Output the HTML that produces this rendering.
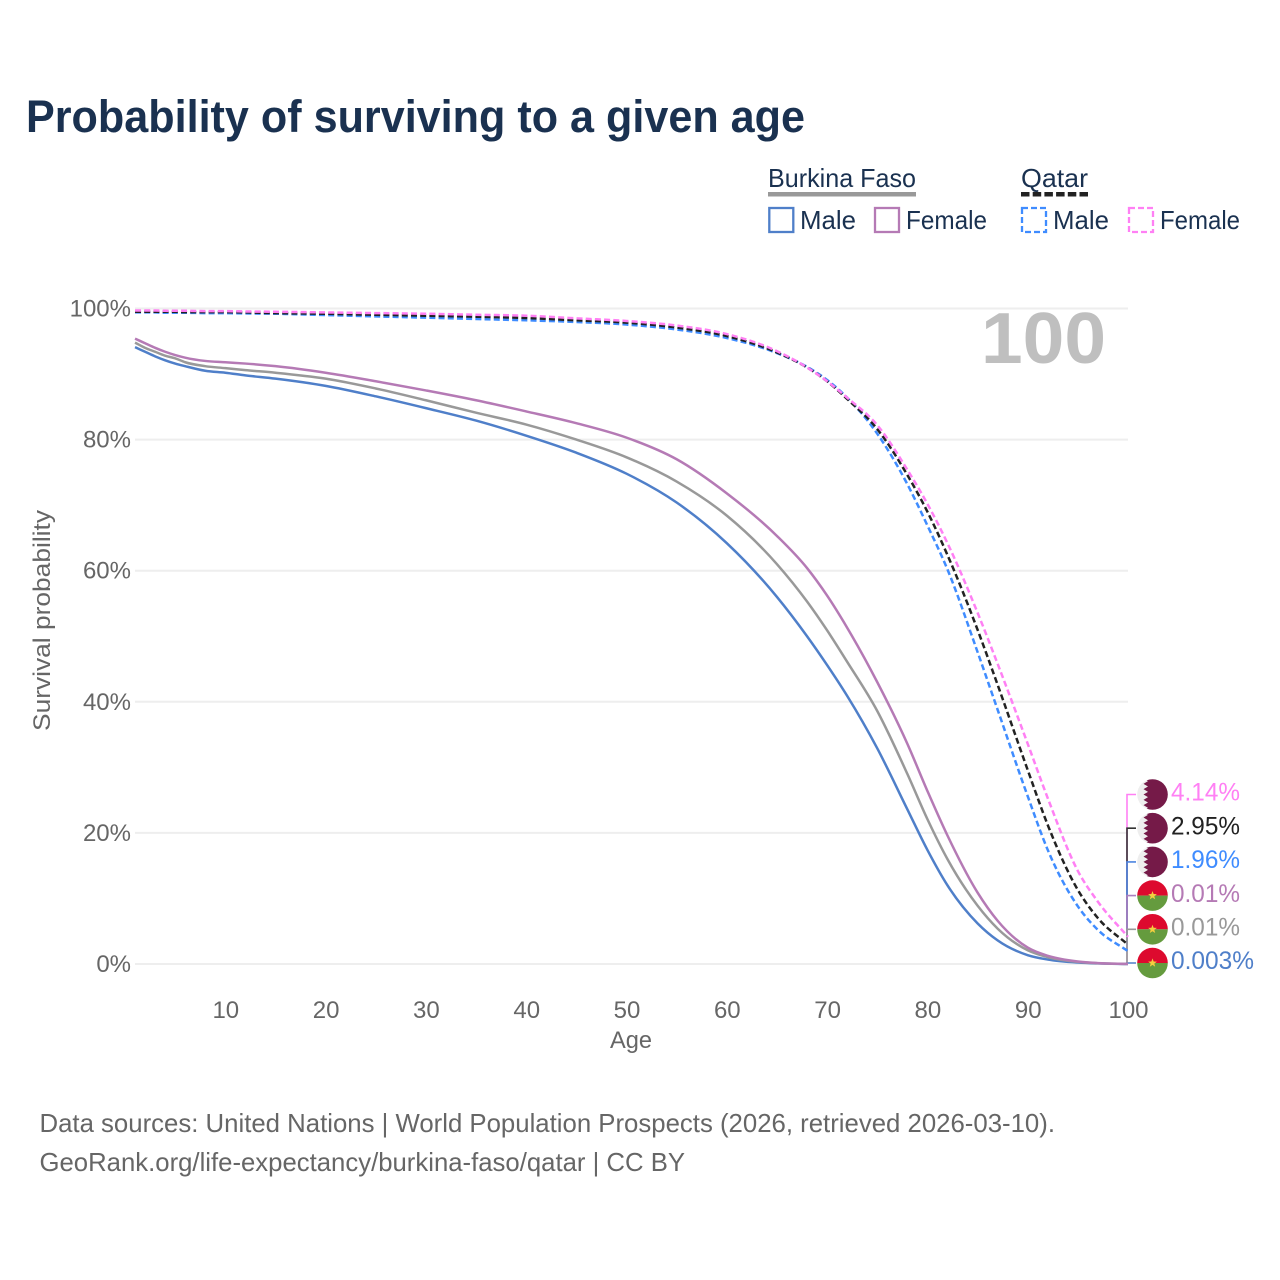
<!DOCTYPE html>
<html lang="en">
<head>
<meta charset="utf-8">
<title>Probability of surviving to a given age</title>
<style>
html,body{margin:0;padding:0;background:#fff;}
svg{display:block;}
text{font-family:"Liberation Sans",sans-serif;}
</style>
</head>
<body>
<svg id="chart" xmlns="http://www.w3.org/2000/svg" width="1280" height="1280" viewBox="0 0 1280 1280">
  <rect width="1280" height="1280" fill="#ffffff"/>
  <text x="26" y="132" font-size="45" font-weight="bold" fill="#1a3150" textLength="779" lengthAdjust="spacingAndGlyphs">Probability of surviving to a given age</text>

  <g>
    <text x="768" y="187" font-size="26" fill="#1a3150" textLength="148" lengthAdjust="spacingAndGlyphs">Burkina Faso</text>
    <rect x="768" y="192" width="148" height="4.5" fill="#999999"/>
    <text x="1021" y="187" font-size="26" fill="#1a3150" textLength="67" lengthAdjust="spacingAndGlyphs">Qatar</text>
    <line x1="1021" y1="194.2" x2="1088" y2="194.2" stroke="#222222" stroke-width="4.5" stroke-dasharray="8.5 3.2"/>
    <rect x="769.3" y="208" width="24" height="24" fill="none" stroke="#4f7fc9" stroke-width="2.3"/>
    <text x="800" y="229" font-size="26" fill="#1a3150" textLength="56" lengthAdjust="spacingAndGlyphs">Male</text>
    <rect x="875" y="208" width="24" height="24" fill="none" stroke="#b57ab5" stroke-width="2.3"/>
    <text x="906" y="229" font-size="26" fill="#1a3150" textLength="81" lengthAdjust="spacingAndGlyphs">Female</text>
    <rect x="1022" y="208" width="24" height="24" fill="none" stroke="#3f8cff" stroke-width="2.3" stroke-dasharray="6 3"/>
    <text x="1053" y="229" font-size="26" fill="#1a3150" textLength="56" lengthAdjust="spacingAndGlyphs">Male</text>
    <rect x="1129" y="208" width="24" height="24" fill="none" stroke="#ff80f4" stroke-width="2.3" stroke-dasharray="6 3"/>
    <text x="1160" y="229" font-size="26" fill="#1a3150" textLength="80" lengthAdjust="spacingAndGlyphs">Female</text>
  </g>

  <g id="grid"></g>
  <text x="981" y="363" font-size="72" font-weight="bold" fill="#bfbfbf" textLength="125" lengthAdjust="spacingAndGlyphs">100</text>
  <g id="yticks"></g>
  <g id="xticks"></g>
  <text transform="translate(50,620.5) rotate(-90)" text-anchor="middle" font-size="24" fill="#666666" textLength="221" lengthAdjust="spacingAndGlyphs">Survival probability</text>
  <text x="610" y="1048" font-size="24" fill="#666666" textLength="42" lengthAdjust="spacingAndGlyphs">Age</text>
  <g id="stems"></g>
  <g id="series"></g>
  <g id="ends"></g>

  <text x="39.5" y="1132" font-size="26" fill="#666666" textLength="1015.5" lengthAdjust="spacingAndGlyphs">Data sources: United Nations | World Population Prospects (2026, retrieved 2026-03-10).</text>
  <text x="39.5" y="1171" font-size="26" fill="#666666" textLength="645.5" lengthAdjust="spacingAndGlyphs">GeoRank.org/life-expectancy/burkina-faso/qatar | CC BY</text>
</svg>
<script>
const ages = [1,2,3,4,5,6,8,10,12,15,20,25,30,35,40,45,50,55,60,65,68,70,72,75,78,80,82,85,87,90,92,95,97,100];
const burkinaMale = [94.1,93.4,92.7,92.1,91.6,91.2,90.5,90.2,89.8,89.3,88.2,86.6,84.8,82.9,80.6,78.0,74.8,70.4,64.2,56.0,50.0,45.6,40.9,32.9,23.6,17.4,12.0,6.2,3.6,1.35,0.68,0.22,0.09,0.003];
const burkinaTotal = [94.8,94.0,93.4,92.8,92.4,91.8,91.2,90.9,90.6,90.2,89.3,87.8,86.0,84.1,82.3,80.0,77.3,73.6,68.4,61.0,55.3,50.9,46.1,38.6,29.0,22.1,16.0,8.9,5.4,2.1,1.05,0.33,0.12,0.01];
const burkinaFemale = [95.4,94.7,94.0,93.4,92.9,92.5,92.0,91.8,91.6,91.2,90.2,88.9,87.5,86.0,84.3,82.5,80.3,77.0,71.8,65.3,60.4,56.2,51.3,43.0,33.6,26.4,19.6,10.9,6.6,2.5,1.25,0.38,0.14,0.01];
const qatarMale = [99.4,99.4,99.4,99.35,99.35,99.35,99.3,99.3,99.25,99.2,99.0,98.8,98.6,98.4,98.2,97.95,97.55,96.8,95.5,93.2,91.1,89.1,86.4,80.9,73.2,66.9,60.2,47.6,38.8,25.6,17.4,8.8,5.2,1.96];
const qatarTotal = [99.5,99.5,99.5,99.5,99.5,99.45,99.45,99.45,99.4,99.3,99.2,99.05,98.9,98.75,98.55,98.2,97.85,97.1,95.8,93.3,91.0,88.9,86.2,81.6,74.6,69.0,62.4,51.0,42.6,29.6,21.2,11.3,7.0,2.95];
const qatarFemale = [99.7,99.7,99.7,99.65,99.65,99.65,99.6,99.6,99.55,99.5,99.4,99.3,99.2,99.05,98.9,98.5,98.1,97.4,96.1,93.5,91.0,88.9,86.4,82.2,75.4,70.2,64.2,53.6,45.8,33.6,25.3,14.2,9.5,4.14];
const seriesNames = ["burkina-male","burkina-total","burkina-female","qatar-male","qatar-total","qatar-female"];
const yTickValues = [0,20,40,60,80,100];
const xTickValues = [10,20,30,40,50,60,70,80,90,100];
const endLabelText = ["4.14%","2.95%","1.96%","0.01%","0.01%","0.003%"];

const NS = "http://www.w3.org/2000/svg";
function xScale(a){ return 1128 - (100 - a) * 10.03; }
function yScale(v){ return 964 - v * 6.555; }
function mk(tag, parent, attrs){
  const el = document.createElementNS(NS, tag);
  for (const k in attrs) el.setAttribute(k, attrs[k]);
  parent.appendChild(el);
  return el;
}
function curvePath(xs, vs){
  const n = xs.length, px = xs.map(xScale), py = vs.map(yScale);
  const d = [], m = [];
  for (let i = 0; i < n - 1; i++) d.push((py[i+1] - py[i]) / (px[i+1] - px[i]));
  m.push(d[0]);
  for (let i = 1; i < n - 1; i++) {
    const h0 = px[i] - px[i-1], h1 = px[i+1] - px[i];
    m.push((h1 * d[i-1] + h0 * d[i]) / (h0 + h1));
  }
  m.push(d[n-2]);
  let s = "M" + px[0].toFixed(2) + " " + py[0].toFixed(2);
  for (let i = 0; i < n - 1; i++) {
    const h = (px[i+1] - px[i]) / 3;
    s += "C" + (px[i] + h).toFixed(2) + " " + (py[i] + m[i] * h).toFixed(2) + " " +
         (px[i+1] - h).toFixed(2) + " " + (py[i+1] - m[i+1] * h).toFixed(2) + " " +
         px[i+1].toFixed(2) + " " + py[i+1].toFixed(2);
  }
  return s;
}

const gGrid = document.getElementById("grid");
const gY = document.getElementById("yticks");
yTickValues.forEach(function(v){
  const ln = mk("line", gGrid, {x1: 135, x2: 1128, y1: yScale(v), y2: yScale(v), stroke: "#eeeeee", "stroke-width": 2});
  
  
  const t = mk("text", gY, {x: 131, y: yScale(v) + 8, "text-anchor": "end", "font-size": 24, fill: "#666666"});
  t.textContent = v + "%";
  
  
});
const gX = document.getElementById("xticks");
xTickValues.forEach(function(a){
  const t = mk("text", gX, {x: xScale(a) + 0.5, y: 1018, "text-anchor": "middle", "font-size": 24, fill: "#666666"});
  t.textContent = String(a);
  
  
});

const allSeries = [burkinaMale, burkinaTotal, burkinaFemale, qatarMale, qatarTotal, qatarFemale];
const colors = ["#4f7fc9","#999999","#b57ab5","#3f8cff","#222222","#ff80f4"];
const gSeries = document.getElementById("series");
allSeries.forEach(function(vals, i){
  const attrs = {d: curvePath(ages, vals), fill: "none", stroke: colors[i], "stroke-width": 2.5, "stroke-linejoin": "round"};
  if (i >= 3) attrs["stroke-dasharray"] = "6 3.2";
  const p = mk("path", gSeries, attrs);
  
  
});

function flagQatar(parent, cx, cy){
  const g = mk("g", parent, {});
  const id = "clip-" + Math.round(cy);
  const cp = mk("clipPath", g, {id: id});
  mk("circle", cp, {cx: cx, cy: cy, r: 15.3});
  const inner = mk("g", g, {"clip-path": "url(#" + id + ")"});
  mk("rect", inner, {x: cx - 16, y: cy - 16, width: 32, height: 32, fill: "#eeeeee"});
  const teeth = 6, h = 32 / teeth;
  let pts = (cx + 16) + "," + (cy - 16);
  pts += " " + (cx - 9) + "," + (cy - 16);
  for (let k = 0; k < teeth; k++) {
    pts += " " + (cx - 4.5) + "," + (cy - 16 + h * (k + 0.5));
    pts += " " + (cx - 9) + "," + (cy - 16 + h * (k + 1));
  }
  pts += " " + (cx + 16) + "," + (cy + 16);
  mk("polygon", inner, {points: pts, fill: "#751a48"});
  return g;
}
function flagBurkina(parent, cx, cy){
  const g = mk("g", parent, {});
  const id = "clip-" + Math.round(cy);
  const cp = mk("clipPath", g, {id: id});
  mk("circle", cp, {cx: cx, cy: cy, r: 15.3});
  const inner = mk("g", g, {"clip-path": "url(#" + id + ")"});
  mk("rect", inner, {x: cx - 16, y: cy - 16, width: 32, height: 16, fill: "#dd0a2e"});
  mk("rect", inner, {x: cx - 16, y: cy, width: 32, height: 16, fill: "#659b3e"});
  let pts = "";
  for (let k = 0; k < 10; k++) {
    const r = k % 2 ? 1.9 : 4.6, an = -Math.PI / 2 + k * Math.PI / 5;
    pts += (cx + r * Math.cos(an)).toFixed(2) + "," + (cy + r * Math.sin(an)).toFixed(2) + " ";
  }
  mk("polygon", inner, {points: pts, fill: "#f5cf3f"});
  return g;
}

const gStems = document.getElementById("stems");
const gEnds = document.getElementById("ends");
const endOrder = [5,4,3,2,1,0];
const endWidths = [69,69,69,69,69,83];
const stemColors = ["#ff80f4","#333333","#4f86e0","#ab80c0","#999999","#4f7fc9"];
endOrder.forEach(function(si, i){
  const slot = 794.5 + i * 33.7;
  const vals = allSeries[si];
  const yEnd = yScale(vals[vals.length - 1]);
  const st = mk("path", gStems, {d: "M1127 " + yEnd.toFixed(2) + "V" + slot.toFixed(2) + "H1136", fill: "none", stroke: stemColors[i], "stroke-width": 1.6});
  
  
  const fl = (si >= 3 ? flagQatar : flagBurkina)(gEnds, 1152.5, slot);
  
  
  const t = mk("text", gEnds, {x: 1171, y: slot + 6.2, "font-size": 25, fill: colors[si], textLength: endWidths[i], lengthAdjust: "spacingAndGlyphs"});
  t.textContent = endLabelText[i];
  
  
});
</script>
</body>
</html>
